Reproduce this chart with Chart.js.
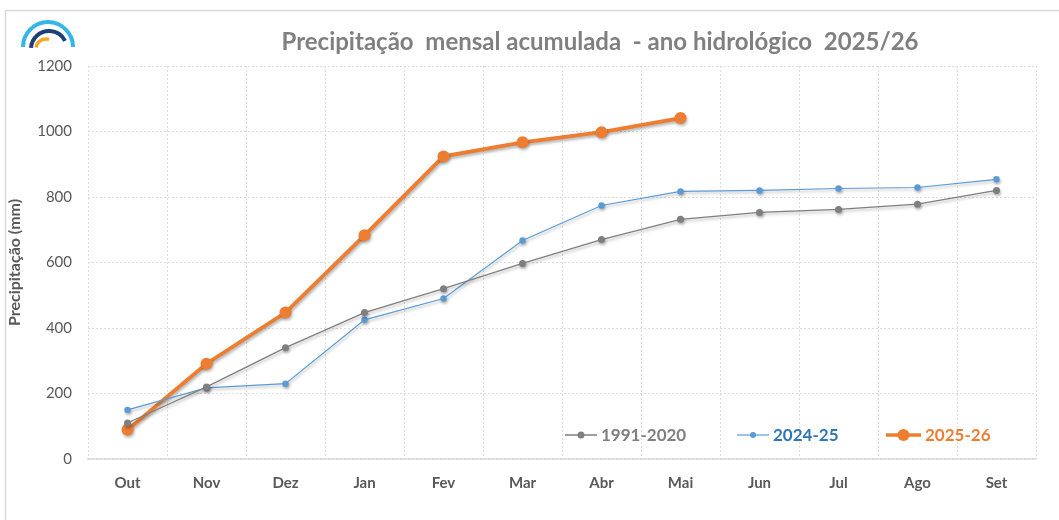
<!DOCTYPE html>
<html>
<head>
<meta charset="utf-8">
<script src="https://cdn.jsdelivr.net/npm/chart.js@4.4.1/dist/chart.umd.min.js"></script>
<style>
  html, body { margin: 0; padding: 0; background: #fff; }
  #wrap { position: relative; width: 1059px; height: 520px; }
</style>
</head>
<body>
<div id="wrap"><canvas id="grafico" width="1059" height="520"></canvas></div>
<script>
// dados
const meses = ['Out', 'Nov', 'Dez', 'Jan', 'Fev', 'Mar', 'Abr', 'Mai', 'Jun', 'Jul', 'Ago', 'Set'];
const normal = [110, 220, 340, 447, 520, 597, 670, 732, 753, 762, 778, 820];
const ano2425 = [150, 217, 230, 425, 490, 667, 774, 817, 820, 826, 829, 854];
const ano2526 = [89, 291, 447, 683, 924, 967, 998, 1041];
const legendas = ['1991-2020', '2024-25', '2025-26'];
const titulo = 'Precipitação  mensal acumulada  - ano hidrológico  2025/26';

const cinza = '#7f7f7f';
const azul = '#5b9bd5';
const laranja = '#ed7d31';
const textoCor = '#595959';
const fonte = 'Lato, "Open Sans", sans-serif';

// titulo, moldura, logo e legenda
const extras = {
  id: 'extras',
  beforeDraw(chart) {
    const c = chart.ctx;
    c.save();
    c.strokeStyle = '#d9d9d9';
    c.lineWidth = 1.5;
    c.beginPath();
    c.moveTo(5.5, 525);
    c.lineTo(5.5, 10.5);
    c.lineTo(1065, 10.5);
    c.stroke();

    // logo
    c.lineCap = 'butt';
    c.strokeStyle = '#35b6ea';
    c.lineWidth = 4;
    c.beginPath();
    c.arc(48, 47, 25, Math.PI, 2 * Math.PI);
    c.stroke();
    c.strokeStyle = '#1f3f7a';
    c.lineWidth = 4;
    c.beginPath();
    c.arc(49, 49, 18, Math.PI * 1.02, Math.PI * 1.85);
    c.stroke();
    c.strokeStyle = '#f5a623';
    c.lineWidth = 3.5;
    c.beginPath();
    c.arc(46, 49, 10, Math.PI * 1.05, Math.PI * 1.6);
    c.stroke();

    c.fillStyle = '#808080';
    c.font = 'bold 24px ' + fonte;
    c.textAlign = 'center';
    c.textBaseline = 'middle';
    c.fillText(titulo, 600, 42);
    c.restore();
  },
  beforeDatasetDraw(chart) {
    const c = chart.ctx;
    c.save();
    c.shadowColor = 'rgba(0,0,0,0.3)';
    c.shadowBlur = 3;
    c.shadowOffsetX = 1;
    c.shadowOffsetY = 2;
  },
  afterDatasetDraw(chart) {
    chart.ctx.restore();
  },
  afterDraw(chart) {
    const c = chart.ctx;
    const y = 435;
    const itens = [
      { x: 565, w: 32, cor: cinza, txt: cinza, lw: 1.5, r: 3.5 },
      { x: 737, w: 32, cor: azul, txt: '#2e75b6', lw: 1.2, r: 3 },
      { x: 886, w: 35, cor: laranja, txt: laranja, lw: 3.5, r: 6 }
    ];
    c.save();
    c.font = 'bold 17px ' + fonte;
    c.textBaseline = 'middle';
    c.textAlign = 'left';
    itens.forEach((it, i) => {
      c.strokeStyle = it.cor;
      c.lineWidth = it.lw;
      c.beginPath();
      c.moveTo(it.x, y);
      c.lineTo(it.x + it.w, y);
      c.stroke();
      c.fillStyle = it.cor;
      c.beginPath();
      c.arc(it.x + it.w / 2, y, it.r, 0, 2 * Math.PI);
      c.fill();
      c.fillStyle = it.txt;
      c.fillText(legendas[i], it.x + it.w + 4, y + 1);
    });
    c.restore();
  }
};

new Chart(document.getElementById('grafico'), {
  type: 'line',
  data: {
    labels: meses,
    datasets: [
      {
        label: legendas[0],
        data: normal,
        borderColor: cinza,
        backgroundColor: cinza,
        borderWidth: 1.3,
        pointRadius: 3.5,
        pointBorderWidth: 0,
        tension: 0
      },
      {
        label: legendas[1],
        data: ano2425,
        borderColor: azul,
        backgroundColor: azul,
        borderWidth: 1.2,
        pointRadius: 3.2,
        pointBorderWidth: 0,
        tension: 0
      },
      {
        label: legendas[2],
        data: ano2526,
        borderColor: laranja,
        backgroundColor: laranja,
        borderWidth: 3.8,
        pointRadius: 6,
        pointBorderWidth: 0,
        tension: 0
      }
    ]
  },
  options: {
    responsive: false,
    maintainAspectRatio: false,
    animation: false,
    layout: { padding: { left: 0, right: 23, top: 66, bottom: 0 } },
    plugins: {
      legend: { display: false },
      title: { display: false },
      tooltip: { enabled: false }
    },
    scales: {
      x: {
        offset: true,
        grid: {
          offset: true,
          color: '#dcdcdc',
          drawTicks: false
        },
        border: { display: true, color: '#d9d9d9', width: 1.5, dash: [2, 2] },
        ticks: {
          color: textoCor,
          padding: 15,
          maxRotation: 0,
          autoSkip: false,
          font: { family: fonte, size: 15, weight: 'bold' }
        },
        afterFit(scale) { scale.height = 61; }
      },
      y: {
        min: 0,
        max: 1200,
        ticks: {
          stepSize: 200,
          color: textoCor,
          padding: 16,
          font: { family: fonte, size: 15 },
          callback: (v) => String(v)
        },
        grid: { color: '#dcdcdc', drawTicks: false },
        border: { display: false, dash: [2, 2] },
        title: {
          display: true,
          text: 'Precipitação (mm)',
          color: textoCor,
          padding: { top: 5, bottom: 0 },
          font: { family: fonte, size: 16, weight: 'bold' }
        },
        afterFit(scale) { scale.width = 88; }
      }
    }
  },
  plugins: [extras]
});
</script>
</body>
</html>
